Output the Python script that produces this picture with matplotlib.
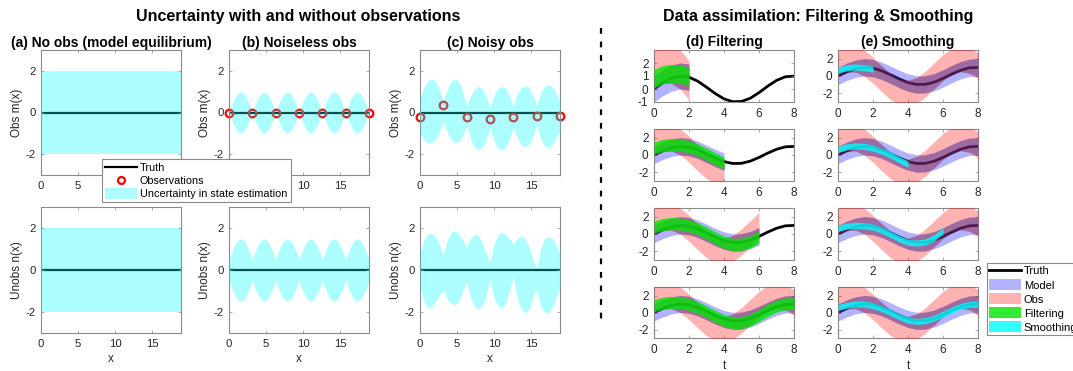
import matplotlib.pyplot as plt
from matplotlib.lines import Line2D
from matplotlib.patches import Patch

plt.rcParams['font.family'] = ['Liberation Sans', 'DejaVu Sans']
plt.rcParams['axes.unicode_minus'] = False

W, H = 1073, 371

# ---------------- left half: uncertainty with / without observations ----------------
x_grid = [0.0, 0.524, 1.047, 1.571, 2.094, 2.618, 3.142, 3.665, 4.189, 4.712, 5.236, 5.760,
          6.283, 6.807, 7.330, 7.854, 8.378, 8.901, 9.425, 9.948, 10.472, 10.996, 11.519, 12.043,
          12.566, 13.090, 13.614, 14.137, 14.661, 15.184, 15.708, 16.232, 16.755, 17.279, 17.802,
          18.326, 18.850]
truth_x = [0.0] * len(x_grid)

# (a) no obs: constant +-2
a_obs_hi = [2.0] * len(x_grid)
a_obs_lo = [-2.0] * len(x_grid)
a_un_hi = [2.0] * len(x_grid)
a_un_lo = [-2.0] * len(x_grid)

# (b) noiseless obs
b_obs_hi = [0, 0.5, 0.87, 1.0, 0.87, 0.5] * 6 + [0]
b_obs_lo = [0, -0.5, -0.87, -1.0, -0.87, -0.5] * 6 + [0]
b_un_hi = [0.5, 1.0, 1.37, 1.5, 1.37, 1.0] * 6 + [0.5]
b_un_lo = [-0.5, -1.0, -1.37, -1.5, -1.37, -1.0] * 6 + [-0.5]

# (c) noisy obs
c_obs_hi = [0.7, 1.2, 1.5, 1.62, 1.5, 1.1,
            0.55, 1.1, 1.5, 1.62, 1.45, 1.0,
            0.3, 0.8, 1.1, 1.25, 1.15, 0.8,
            0.25, 0.8, 1.15, 1.25, 1.15, 0.8,
            0.3, 0.9, 1.2, 1.3, 1.2, 0.85,
            0.35, 0.95, 1.25, 1.35, 1.25, 0.9, 0.55]
c_obs_lo = [-1.0, -1.3, -1.45, -1.45, -1.3, -0.95,
            -0.4, -0.95, -1.3, -1.45, -1.4, -1.1,
            -0.65, -1.25, -1.65, -1.78, -1.7, -1.3,
            -0.75, -1.35, -1.7, -1.8, -1.7, -1.3,
            -0.7, -1.2, -1.55, -1.65, -1.55, -1.2,
            -0.6, -1.25, -1.6, -1.7, -1.6, -1.2, -0.9]
c_un_hi = [0.8, 1.4, 1.7, 1.75, 1.55, 1.2,
           0.75, 1.4, 1.8, 1.87, 1.7, 1.4,
           1.07, 1.5, 1.7, 1.65, 1.3, 0.8,
           0.35, 1.2, 1.65, 1.8, 1.7, 1.5,
           1.23, 1.5, 1.63, 1.5, 1.1, 0.6,
           0.0, 1.0, 1.45, 1.6, 1.5, 1.2, 0.8]
c_un_lo = [-0.8, -1.5, -1.8, -1.75, -1.5, -1.2,
           -0.95, -1.4, -1.6, -1.65, -1.5, -1.0,
           -0.55, -1.3, -1.75, -1.85, -1.7, -1.2,
           -0.5, -1.3, -1.7, -1.8, -1.6, -1.0,
           -0.3, -1.3, -1.85, -2.05, -1.9, -1.3,
           -0.9, -1.7, -2.0, -2.05, -1.8, -1.3, -0.8]

obs_x = [0.0, 3.142, 6.283, 9.425, 12.566, 15.708, 18.850]
obs_b = [0, 0, 0, 0, 0, 0, 0]
obs_c = [-0.2, 0.37, -0.21, -0.32, -0.23, -0.15, -0.17]

# ---------------- right half: filtering & smoothing ----------------
t = [0, 0.5, 1, 1.5, 2, 2.5, 3, 3.5, 4, 4.5, 5, 5.5, 6, 6.5, 7, 7.5, 8]
truth_t = [0.00, 0.48, 0.84, 1.00, 0.91, 0.60, 0.14, -0.35, -0.76, -0.98, -0.96, -0.71,
           -0.28, 0.22, 0.66, 0.94, 0.99]
model_hi = [1.00, 1.48, 1.84, 2.00, 1.91, 1.60, 1.14, 0.65, 0.24, 0.02, 0.04, 0.29,
            0.72, 1.22, 1.66, 1.94, 1.99]
model_lo = [-1.00, -0.52, -0.16, 0.00, -0.09, -0.40, -0.86, -1.35, -1.76, -1.98, -1.96, -1.71,
            -1.28, -0.78, -0.34, -0.06, -0.01]
obs_hi = [2.93, 3.43, 3.45, 2.99, 2.17, 1.18, 0.28, -0.33, -0.49, -0.16, 0.57, 1.53,
          2.49, 3.20, 3.50, 3.31, 2.67]
obs_lo = [-0.07, 0.43, 0.45, -0.01, -0.83, -1.82, -2.72, -3.33, -3.49, -3.16, -2.43, -1.47,
          -0.51, 0.20, 0.50, 0.31, -0.33]
filt_hi = [1.5, 1.8, 1.9, 1.85, 1.65, 1.3, 0.8, 0.25, -0.25, -0.5, -0.5, -0.2, 0.35, 0.95,
           1.45, 1.7, 1.75]
filt_lo = [0.1, 0.4, 0.5, 0.45, 0.25, -0.1, -0.6, -1.15, -1.65, -1.9, -1.9, -1.6, -1.05,
           -0.45, 0.05, 0.3, 0.35]
smooth_mid = [
    [0.7, 0.95, 1.05, 0.95, 0.8],
    [0.65, 0.95, 1.05, 1.0, 0.8, 0.45, 0.0, -0.55, -1.05],
    [0.65, 0.9, 1.0, 0.95, 0.8, 0.45, -0.05, -0.55, -0.95, -1.05, -0.9, -0.45, 0.4],
    [0.6, 0.85, 1.0, 1.0, 0.8, 0.45, 0.0, -0.5, -0.9, -1.05, -0.95, -0.65, -0.2, 0.3,
     0.7, 0.95, 1.0],
]
smooth_half = 0.35
row_end = [5, 9, 13, 17]   # number of t samples shown in each row

band_blue = (0, 0, 1)
band_red = (1, 0, 0)
band_green = (0, 0.9, 0)
band_cyan = (0, 1, 1)
frame_col = '#8a8a8a'
tick_col = '#262626'


def style_axes(ax, fs, pad=3):
  for s in ax.spines.values():
    s.set_color(frame_col)
    s.set_linewidth(0.8)
  ax.tick_params(direction='in', length=2, width=0.5, colors=frame_col, labelcolor=tick_col,
                 labelsize=fs, top=True, right=True, pad=pad)


fig = plt.figure(figsize=(W / 100, H / 100), dpi=100)

# left panels
lefts = [41, 229, 420]
tops = [(50, 175), (207, 333)]
titles = ['(a) No obs (model equilibrium)', '(b) Noiseless obs', '(c) Noisy obs']
bands = [[(a_obs_lo, a_obs_hi), (a_un_lo, a_un_hi)],
         [(b_obs_lo, b_obs_hi), (b_un_lo, b_un_hi)],
         [(c_obs_lo, c_obs_hi), (c_un_lo, c_un_hi)]]
obs_vals = [None, obs_b, obs_c]
for j in range(3):
  for i in range(2):
    y0, y1 = tops[i]
    ax = fig.add_axes([lefts[j] / W, 1 - y1 / H, 140 / W, (y1 - y0) / H])
    ax.plot(x_grid, truth_x, color='k', lw=1.6, zorder=1)
    if i == 0 and obs_vals[j] is not None:
      ax.plot(obs_x, obs_vals[j], 'o', mfc='none', mec='red', ms=5.5, mew=1.6,
              clip_on=False, zorder=2)
    lo, hi = bands[j][i]
    ax.fill_between(x_grid, lo, hi, color=band_cyan, alpha=0.32, lw=0, zorder=3)
    ax.set_xlim(0, 18.85)
    ax.set_ylim(-3, 3)
    ax.set_xticks([0, 5, 10, 15])
    ax.set_yticks([-2, 0, 2])
    style_axes(ax, 8.2, pad=4)
    ax.set_ylabel('Obs m(x)' if i == 0 else 'Unobs n(x)', fontsize=8.5, color=tick_col,
                  labelpad=2)
    if i == 0:
      ax.set_title(titles[j], fontsize=10, fontweight='bold', pad=2)
    else:
      ax.set_xlabel('x', fontsize=8.5, color=tick_col, labelpad=3)

leg_l = fig.legend([Line2D([], [], color='k', lw=1.6),
                    Line2D([], [], ls='none', marker='o', mfc='none', mec='red', ms=5, mew=1.6),
                    Patch(facecolor=band_cyan, alpha=0.32, lw=0)],
                   ['Truth', 'Observations', 'Uncertainty in state estimation'],
                   loc='upper left', bbox_to_anchor=(102 / W, 1 - 159 / H), fontsize=7.8,
                   frameon=True, fancybox=False, edgecolor=frame_col, framealpha=1,
                   borderpad=0.3, handlelength=2.9, handleheight=1.2, handletextpad=0.3,
                   labelspacing=0.15, borderaxespad=0)
leg_l.get_frame().set_linewidth(0.8)

# right panels
rlefts = [654, 838]
rrows = [(50, 102), (129, 181), (208, 260), (287, 338)]
for i in range(4):
  y0, y1 = rrows[i]
  n = row_end[i]
  for j in range(2):
    ax = fig.add_axes([rlefts[j] / W, 1 - y1 / H, 140 / W, (y1 - y0) / H])
    ax.plot(t, truth_t, color='k', lw=2, zorder=1)
    m = n if j == 0 else len(t)
    ax.fill_between(t[:m], model_lo[:m], model_hi[:m], color=band_blue, alpha=0.3, lw=0, zorder=2)
    ax.fill_between(t[:m], obs_lo[:m], obs_hi[:m], color=band_red, alpha=0.3, lw=0, zorder=3)
    # where model and obs bands overlap the picture shows a muted purple
    both_lo = [max(a, b) for a, b in zip(model_lo[:m], obs_lo[:m])]
    both_hi = [min(a, b) for a, b in zip(model_hi[:m], obs_hi[:m])]
    ax.fill_between(t[:m], both_lo, both_hi, where=[h > l for l, h in zip(both_lo, both_hi)],
                    interpolate=True, color=(0.3, 0.3, 0.5), alpha=0.35, lw=0, zorder=3.5)
    if j == 0:
      ax.fill_between(t[:n], filt_lo[:n], filt_hi[:n], color=band_green, alpha=0.8, lw=0,
                      zorder=4)
    else:
      mid = smooth_mid[i]
      ax.fill_between(t[:n], [v - smooth_half for v in mid], [v + smooth_half for v in mid],
                      color=band_cyan, alpha=0.8, lw=0, zorder=4)
    ax.set_xlim(0, 8)
    ax.set_xticks([0, 2, 4, 6, 8])
    if i == 0 and j == 0:
      ax.set_ylim(-1, 3)
      ax.set_yticks([-1, 0, 1, 2])
    else:
      ax.set_ylim(-3, 3)
      ax.set_yticks([-2, 0, 2])
    style_axes(ax, 8.5, pad=4)
    if i == 0:
      ax.set_title('(d) Filtering' if j == 0 else '(e) Smoothing', fontsize=10,
                   fontweight='bold', pad=3)
    if i == 3:
      ax.set_xlabel('t', fontsize=8.5, color=tick_col, labelpad=3)

leg_r = fig.legend([Line2D([], [], color='k', lw=2),
                    Patch(facecolor=band_blue, alpha=0.3, lw=0),
                    Patch(facecolor=band_red, alpha=0.3, lw=0),
                    Patch(facecolor=band_green, alpha=0.8, lw=0),
                    Patch(facecolor=band_cyan, alpha=0.8, lw=0)],
                   ['Truth', 'Model', 'Obs', 'Filtering', 'Smoothing'],
                   loc='upper left', bbox_to_anchor=(987 / W, 1 - 263 / H), fontsize=8,
                   frameon=True, fancybox=False, edgecolor=frame_col, framealpha=1,
                   borderpad=0.2, handlelength=2.9, handleheight=1.15, handletextpad=0.2,
                   labelspacing=0.25, borderaxespad=0)
leg_r.get_frame().set_linewidth(0.8)

# section titles and separator
fig.text(298 / W, 1 - 16 / H, 'Uncertainty with and without observations', ha='center',
         va='center', fontsize=11.5, fontweight='bold')
fig.text(818 / W, 1 - 16 / H, 'Data assimilation: Filtering & Smoothing', ha='center',
         va='center', fontsize=11.5, fontweight='bold')
fig.add_artist(Line2D([601 / W, 601 / W], [1 - 28 / H, 1 - 325 / H], color='k', lw=1.6,
                      ls=(0, (2.6, 3.5))))

fig.savefig('out.png', dpi=100)
